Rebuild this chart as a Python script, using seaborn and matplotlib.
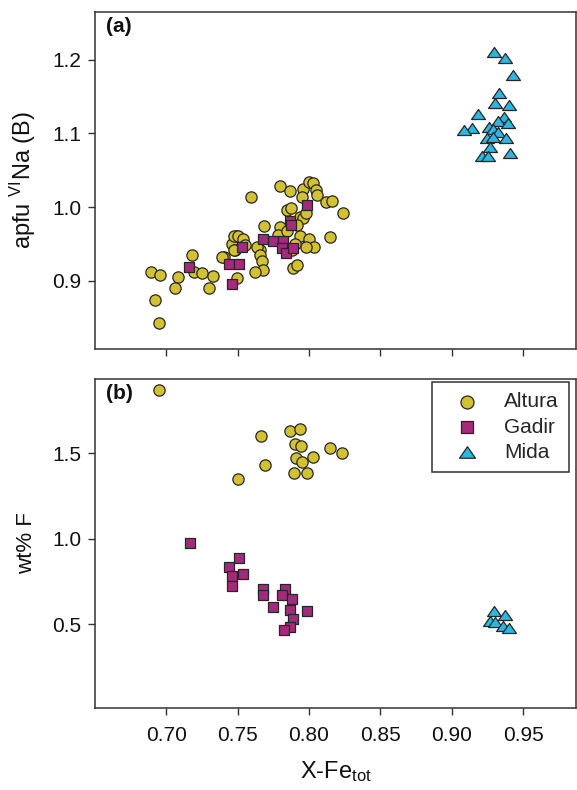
import matplotlib
matplotlib.use("Agg")
import matplotlib.pyplot as plt
import matplotlib.path as mpath
from matplotlib.ticker import FormatStrFormatter
import numpy as np
import pandas as pd
import seaborn as sns

# ---- panel (a): apfu VI-Na (B) versus X-Fe_tot ----
altura_a_x = [0.6895, 0.696, 0.692, 0.695, 0.718, 0.708, 0.706, 0.7196, 0.7254, 0.7327,
              0.730, 0.7408, 0.746, 0.7495, 0.748, 0.7495,
              0.7595, 0.7794, 0.7868, 0.7955, 0.7997, 0.803, 0.805, 0.8055, 0.812, 0.816,
              0.8235, 0.8148, 0.795, 0.7845, 0.7875, 0.7938, 0.796, 0.798, 0.7915, 0.780,
              0.7686, 0.7938, 0.7997, 0.8036, 0.798, 0.7903, 0.788, 0.7658, 0.7635, 0.7658,
              0.767, 0.7677, 0.762, 0.7887, 0.7915, 0.7472, 0.7506, 0.754, 0.7472, 0.739,
              0.7555, 0.7785, 0.7845]
altura_a_y = [0.912, 0.908, 0.874, 0.843, 0.935, 0.905, 0.890, 0.911, 0.910, 0.906,
              0.890, 0.932, 0.950, 0.960, 0.9415, 0.904,
              1.014, 1.029, 1.022, 1.024, 1.034, 1.032, 1.023, 1.016, 1.007, 1.008,
              0.992, 0.959, 1.014, 0.996, 0.998, 0.987, 0.985, 0.992, 0.976, 0.973,
              0.974, 0.961, 0.957, 0.946, 0.945, 0.950, 0.9415, 0.9415, 0.946, 0.935,
              0.926, 0.915, 0.912, 0.917, 0.921, 0.960, 0.960, 0.957, 0.9415, 0.932,
              0.948, 0.962, 0.968]

gadir_a_x = [0.716, 0.7443, 0.746, 0.7513, 0.7534, 0.768, 0.775, 0.782, 0.781, 0.784,
             0.789, 0.787, 0.7873, 0.7985]
gadir_a_y = [0.919, 0.9225, 0.895, 0.923, 0.946, 0.957, 0.954, 0.954, 0.944, 0.937,
             0.944, 0.981, 0.9755, 1.0027]

mida_a_x = [0.9297, 0.9374, 0.9428, 0.9334, 0.930, 0.9404, 0.9187, 0.9368, 0.9325, 0.9263,
            0.9396, 0.9141, 0.9087, 0.9288, 0.9325, 0.9244, 0.929, 0.938, 0.9269, 0.9210,
            0.9252, 0.9409]
mida_a_y = [1.2105, 1.2023, 1.1796, 1.1547, 1.1419, 1.1388, 1.1261, 1.122, 1.1174, 1.1093,
            1.1139, 1.107, 1.1048, 1.1057, 1.1025, 1.0935, 1.0957, 1.0935, 1.0812, 1.0694,
            1.0694, 1.073]

# ---- panel (b): wt% F versus X-Fe_tot ----
altura_b_x = [0.695, 0.750, 0.7665, 0.7693, 0.7868, 0.7938, 0.7903, 0.7943, 0.791, 0.795,
              0.803, 0.7898, 0.7985, 0.8148, 0.823]
altura_b_y = [1.870, 1.350, 1.601, 1.432, 1.630, 1.640, 1.554, 1.543, 1.474, 1.451,
              1.480, 1.383, 1.383, 1.529, 1.500]

gadir_b_x = [0.7168, 0.7513, 0.7443, 0.746, 0.7537, 0.746, 0.768, 0.768, 0.7832, 0.781,
             0.788, 0.7747, 0.7868, 0.7985, 0.789, 0.7864, 0.7822]
gadir_b_y = [0.976, 0.889, 0.837, 0.7825, 0.794, 0.724, 0.7047, 0.671, 0.7047, 0.671,
             0.646, 0.603, 0.5836, 0.580, 0.529, 0.4825, 0.467]

mida_b_x = [0.9297, 0.9374, 0.9269, 0.9304, 0.9362, 0.9404]
mida_b_y = [0.578, 0.554, 0.521, 0.515, 0.490, 0.477]

groups = ["Altura", "Gadir", "Mida"]
x_ticks = [0.70, 0.75, 0.80, 0.85, 0.90, 0.95]
a_ticks = [0.9, 1.0, 1.1, 1.2]
b_ticks = [0.5, 1.0, 1.5]

colors = {"Altura": "#d2c232", "Gadir": "#a62a7c", "Mida": "#2db6e0"}
# flattened upward triangle
tri = mpath.Path([(0, 0.72), (-1, -0.72), (1, -0.72), (0, 0.72)], closed=True)
markers = {"Altura": "o", "Gadir": "s", "Mida": tri}
sizes = {"Altura": 66, "Gadir": 62, "Mida": 100}


def frame(xs, ys, name):
    return pd.DataFrame({"x": xs, "y": ys, "group": name})


panel_a = pd.concat([frame(altura_a_x, altura_a_y, "Altura"),
                     frame(gadir_a_x, gadir_a_y, "Gadir"),
                     frame(mida_a_x, mida_a_y, "Mida")], ignore_index=True)
panel_b = pd.concat([frame(altura_b_x, altura_b_y, "Altura"),
                     frame(gadir_b_x, gadir_b_y, "Gadir"),
                     frame(mida_b_x, mida_b_y, "Mida")], ignore_index=True)

sns.set_theme(style="white")
plt.rcParams["font.family"] = ["Liberation Sans", "DejaVu Sans"]
plt.rcParams["mathtext.fontset"] = "custom"
plt.rcParams["mathtext.rm"] = "Liberation Sans"
plt.rcParams["mathtext.it"] = "Liberation Sans:italic"
plt.rcParams["mathtext.bf"] = "Liberation Sans:bold"

fig = plt.figure(figsize=(5.77, 7.90), dpi=100)
ax_a = fig.add_axes([0.1655, 0.5582, 0.8328, 0.4266])
ax_b = fig.add_axes([0.1655, 0.1038, 0.8328, 0.4165])

edge = "#262626"
for ax, data in ((ax_a, panel_a), (ax_b, panel_b)):
    for g in groups:
        sub = data[data["group"] == g]
        sns.scatterplot(data=sub, x="x", y="y", color=colors[g], marker=markers[g],
                        s=sizes[g], edgecolor=edge, linewidth=0.9, ax=ax, label=g,
                        legend=False)
    ax.set_xlim(0.6505, 0.987)
    ax.set_xticks(x_ticks)
    ax.xaxis.set_major_formatter(FormatStrFormatter("%.2f"))
    for side in ("left", "right", "top", "bottom"):
        ax.spines[side].set_visible(True)
        ax.spines[side].set_color("#333333")
        ax.spines[side].set_linewidth(1.1)
    ax.tick_params(axis="both", which="major", direction="out", length=5, width=1.0,
                   color="#333333", labelsize=15, labelcolor="#111111",
                   left=True, bottom=True)
    ax.tick_params(axis="x", pad=8)
    ax.tick_params(axis="y", pad=5)
    ax.set_facecolor("white")

ax_a.set_ylim(0.807, 1.265)
ax_a.set_yticks(a_ticks)
ax_a.yaxis.set_major_formatter(FormatStrFormatter("%.1f"))
ax_a.tick_params(axis="x", labelbottom=False)
ax_a.set_xlabel("")
ax_a.set_ylabel(r"apfu $^{\mathrm{VI}}$Na (B)", fontsize=17, color="#111111")
ax_a.yaxis.set_label_coords(-0.12, 0.5)

ax_b.set_ylim(0.011, 1.934)
ax_b.set_yticks(b_ticks)
ax_b.yaxis.set_major_formatter(FormatStrFormatter("%.1f"))
ax_b.set_ylabel("wt% F", fontsize=16, color="#111111")
ax_b.yaxis.set_label_coords(-0.122, 0.5)
ax_b.set_xlabel(r"X-Fe$_{\mathrm{tot}}$", fontsize=17, color="#111111")
ax_b.xaxis.set_label_coords(0.5, -0.155)

for ax, tag in ((ax_a, "(a)"), (ax_b, "(b)")):
    ax.text(0.022, 0.984, tag, transform=ax.transAxes, ha="left", va="top",
            fontsize=15, fontweight="bold", color="#111111")

leg = ax_b.legend(loc="upper right", bbox_to_anchor=(0.985, 0.991), borderaxespad=0,
                  fontsize=15, frameon=True, fancybox=False, labelspacing=0.3,
                  handletextpad=0.55, handlelength=2.4, borderpad=0.5,
                  markerscale=1.15)
leg.get_frame().set_edgecolor("#333333")
leg.get_frame().set_linewidth(1.1)
leg.get_frame().set_facecolor("white")
leg.get_frame().set_alpha(1)

fig.savefig("out.png", dpi=100, facecolor="white")
